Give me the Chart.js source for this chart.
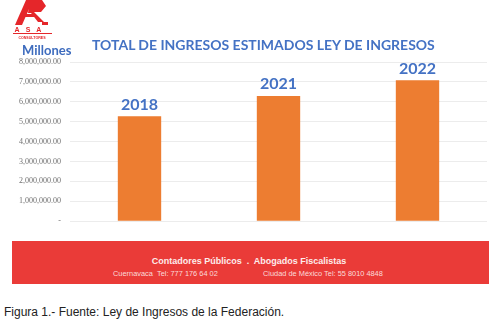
<!DOCTYPE html>
<html><head><meta charset="utf-8">
<script src="https://cdn.jsdelivr.net/npm/chart.js@4"></script>
<style>
html,body{margin:0;padding:0;background:#fff;}
#wrap{position:relative;width:496px;height:325px;overflow:hidden;font-family:"Liberation Sans",Arial,sans-serif;}
#c{position:absolute;left:0;top:0;}
.abs{position:absolute;white-space:nowrap;}
#title{left:92px;top:36px;font:bold 14px Lato,sans-serif;color:#4472C4;}
#mill{left:22px;top:42px;font:bold 13px Lato,sans-serif;color:#3E6CBE;}
#band{left:12px;top:241px;width:477px;height:43px;background:#EA3B38;}
#l1{left:0;width:498px;text-align:center;top:256px;font:bold 9px "Liberation Sans",Arial,sans-serif;color:#fdeceb;}
#l2a{left:113px;top:269px;font:7.4px "Liberation Sans",Arial,sans-serif;color:#fadcdb;}
#l2b{left:263px;top:269px;font:7.4px "Liberation Sans",Arial,sans-serif;color:#fadcdb;}
#cap{left:4px;top:305px;font:12px "Liberation Sans",Arial,sans-serif;color:#222;}
</style></head>
<body><div id="wrap">
<canvas id="c" width="496" height="235"></canvas>
<svg class="abs" style="left:0;top:0" width="60" height="42" viewBox="0 0 60 42">
 <polygon points="26,0 33,0 22,25 15,25" fill="#E5262A"/>
 <polygon points="30,0 42,0 46,6 41,12 34,12 44,22 38,22 31,13 28,13" fill="#E5262A"/>
 <rect x="22" y="14" width="14" height="3" fill="#E5262A"/>
 <rect x="42" y="22" width="6" height="3" fill="#E5262A"/>
 <text x="31" y="32" text-anchor="middle" font-family="Liberation Sans" font-weight="bold" font-size="7" fill="#E5262A" letter-spacing="6">ASA</text>
 <rect x="13" y="33" width="39" height="1" fill="#E5262A"/>
 <text x="32" y="38.5" text-anchor="middle" font-family="Liberation Sans" font-weight="bold" font-size="3.6" fill="#E5262A">CONSULTORES</text>
</svg>
<div id="mill" class="abs">Millones</div>
<div id="title" class="abs">TOTAL DE INGRESOS ESTIMADOS LEY DE INGRESOS</div>
<div id="band" class="abs"></div>
<div id="l1" class="abs">Contadores Públicos &nbsp;.&nbsp; Abogados Fiscalistas</div>
<div id="l2a" class="abs">Cuernavaca &nbsp;Tel: 777 176 64 02</div>
<div id="l2b" class="abs">Ciudad de México Tel: 55 8010 4848</div>
<div id="cap" class="abs">Figura 1.- Fuente: Ley de Ingresos de la Federación.</div>
</div>
<script>
const categories = ["2018", "2021", "2022"];
const ingresos = [5279667, 6295736, 7088250];
const yTicks = [0, 1000000, 2000000, 3000000, 4000000, 5000000, 6000000, 7000000, 8000000];

// fit title width
(function(){
  const t=document.getElementById('title');
  const w=t.getBoundingClientRect().width;
  const target=343;
  t.style.fontSize=(14*target/w).toFixed(2)+'px';
})();

const barLabels = {
  id:'barLabels',
  afterDatasetsDraw(chart){
    const ctx=chart.ctx;
    const meta=chart.getDatasetMeta(0);
    ctx.save();
    ctx.font='bold 16px Lato, sans-serif';
    ctx.fillStyle='#4472C4';
    ctx.textAlign='center';
    ctx.textBaseline='alphabetic';
    meta.data.forEach((bar,i)=>{
      ctx.fillText(categories[i], bar.x, bar.y-6.5);
    });
    ctx.restore();
  }
};

new Chart(document.getElementById('c'),{
  type:'bar',
  data:{labels:categories,datasets:[{data:ingresos,backgroundColor:'#ED7D31',borderWidth:0,categoryPercentage:1,barPercentage:0.312}]},
  options:{
    responsive:false,animation:false,
    layout:{padding:{left:0,right:9,top:62,bottom:13}},
    plugins:{legend:{display:false},tooltip:{enabled:false},title:{display:false}},
    scales:{
      x:{display:false},
      y:{
        min:0,max:8000000,
        afterBuildTicks(s){s.ticks=yTicks.map(v=>({value:v}));},
        afterFit(s){s.width=70;},
        border:{display:false},
        grid:{color:'#ececec',drawTicks:false,lineWidth:1},
        ticks:{padding:9,color:'#707070',font:{family:'Liberation Serif',size:8},
          callback:v=> v===0?'-':v.toLocaleString('en-US',{minimumFractionDigits:2,maximumFractionDigits:2})}
      }
    }
  },
  plugins:[barLabels]
});
</script>
</body></html>
